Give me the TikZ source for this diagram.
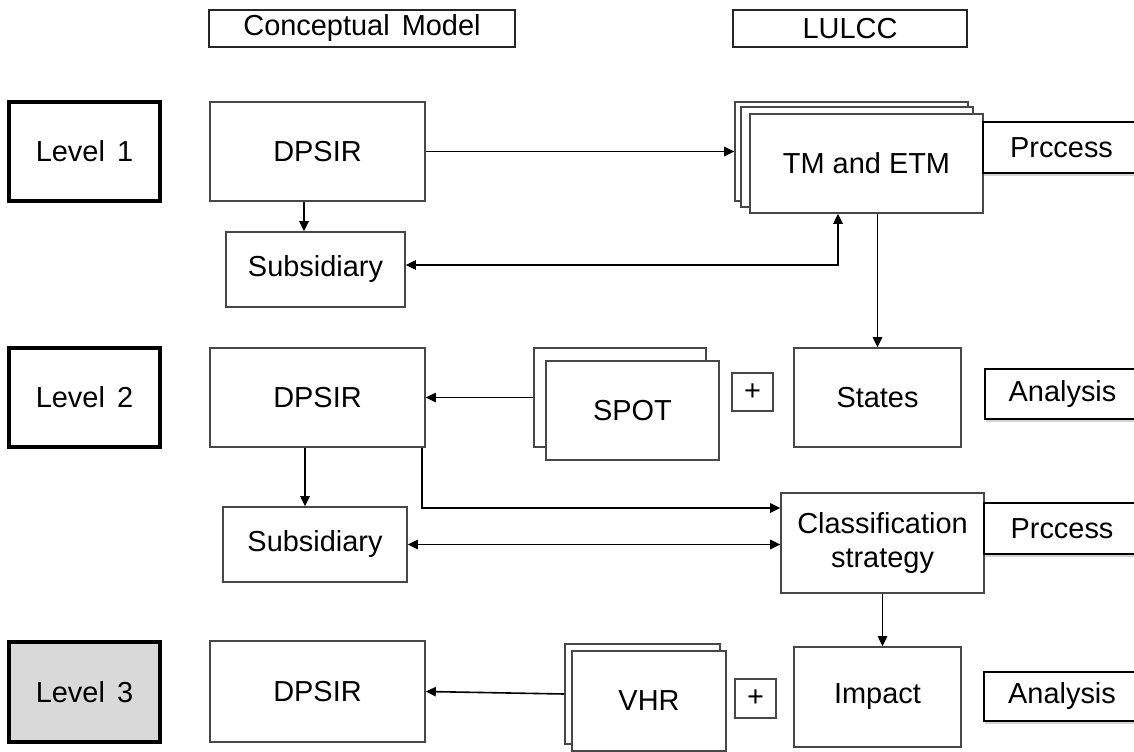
\documentclass[tikz,border=0pt]{standalone}
\usepackage{fontspec}
\setmainfont{Liberation Sans}
\usetikzlibrary{shadows,arrows.meta}

% a block given by its style, name, corners (x1,y1) (x2,y2) in pixels and text
\newcommand\blk[7]{%
  \node[#1, minimum width={(#5-#3)*0.75pt}, minimum height={(#6-#4)*0.75pt}]
    (#2) at ({(#3+#5)/2},{(#4+#6)/2}) {#7};}

\begin{document}
\begin{tikzpicture}[x=0.75pt,y=-0.75pt,
  every node/.style={font=\fontsize{21.7}{25}\selectfont, inner sep=0pt, align=center},
  box/.style={draw=black!72, line width=1.2pt, fill=white},
  levelbox/.style={draw=black, line width=2.8pt, fill=white},
  header/.style={draw=black!85, line width=1.1pt, fill=white},
  tag/.style={draw=black, line width=1.2pt, fill=white,
    drop shadow={shadow xshift=1pt, shadow yshift=-2.5pt, opacity=0.35}},
  tip/.tip={Triangle[length=7.5pt,width=7pt]},
  arr/.style={draw=black, line width=1.2pt, -tip},
  arrs/.style={draw=black, line width=1.2pt, tip-tip},
]
\path[use as bounding box] (0,0) rectangle (1134,752);
\clip (0,0) rectangle (1134,752);

% column headers
\blk{header}{hcm}{209}{10}{515}{47}{Conceptual~\hspace{0.14em}Model}
\blk{header}{hlu}{733}{10}{967}{47}{LULCC}

% level labels
\blk{levelbox}{lv1}{9}{102}{160}{201}{Level~\hspace{0.14em}1}
\blk{levelbox}{lv2}{9}{348}{160}{447}{Level~\hspace{0.14em}2}
\blk{levelbox,fill=black!15}{lv3}{9}{642}{160}{742}{Level~\hspace{0.14em}3}

% conceptual model column
\blk{box}{d1}{210}{102}{425}{201}{DPSIR}
\blk{box}{s1}{226}{232}{405}{307}{Subsidiary}
\blk{box}{d2}{210}{348}{425}{447}{DPSIR}
\blk{box}{s2}{223}{507}{407}{582}{Subsidiary}
\blk{box}{d3}{210}{641}{425}{742}{DPSIR}

% level 1: stacked TM / ETM images
\blk{box}{tmA}{735}{102}{968}{201}{}
\blk{box}{tmB}{741}{107}{973}{207}{}
\blk{box}{tm}{750}{114}{983}{213}{TM and ETM}

% level 2: stacked SPOT images
\blk{box}{spA}{534}{348}{706}{447}{}
\blk{box}{sp}{546}{361}{719}{460}{SPOT}
\blk{box}{pl1}{732}{373}{773}{411}{+}
\blk{box}{st}{794}{348}{961}{447}{States}
\blk{box}{cl}{781}{493}{984}{593}{Classification\\strategy}

% level 3: stacked VHR images
\blk{box}{vhA}{565}{644}{720}{744}{}
\blk{box}{vh}{572}{651}{726}{751}{VHR}
\blk{box}{pl2}{735}{679}{776}{718}{+}
\blk{box}{im}{794}{647}{961}{747}{Impact}

% stage tags on the right
\blk{tag}{t1}{983}{122}{1140}{173}{Prccess}
\blk{tag}{t2}{985}{369}{1140}{419}{Analysis}
\blk{tag}{t3}{984}{503}{1140}{554}{Prccess}
\blk{tag}{t4}{984}{672}{1140}{721}{Analysis}

% bend points of the connectors
\coordinate (c1) at (304,0);
\coordinate (k1) at (838,265);
\coordinate (c3) at (422,508);
\coordinate (c4) at (305,0);

% connectors
\draw[arr] (d1.east) -- (tmA.west);
\draw[arr] (c1 |- d1.south) -- (c1 |- s1.north);
\draw[arrs] (s1.east |- k1) -- (k1) -- (k1 |- tm.south);
\draw[arr] (st.north |- tm.south) -- (st.north);

\draw[arr] (spA.west) -- (d2.east);
\draw[arr] (c4 |- d2.south) -- (c4 |- s2.north);
\draw[arr] (c3 |- d2.south) -- (c3) -- (c3 -| cl.west);
\draw[arrs] (s2.east) -- (s2.east -| cl.west);
\draw[arr] (cl.south) -- (cl.south |- im.north);

\draw[arr] (vhA.west) -- (d3.east);
\end{tikzpicture}
\end{document}
